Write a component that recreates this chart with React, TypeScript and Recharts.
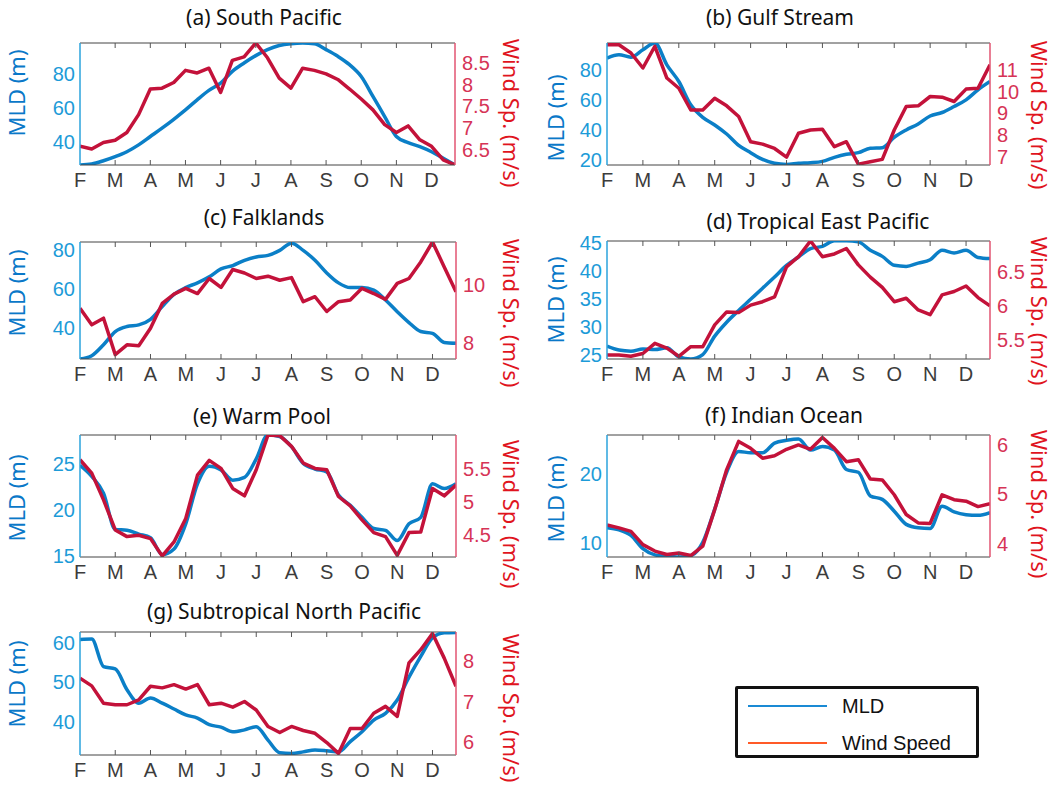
import React from "react";
import { LineChart, Line, XAxis, YAxis, ReferenceLine } from "recharts";

// months since 1 Feb, three samples per month
const sampleMonths = [
  0, 0.333, 0.667, 1, 1.333, 1.667, 2, 2.333, 2.667, 3, 3.333, 3.667, 4, 4.333, 4.667, 5, 5.333,
  5.667, 6, 6.333, 6.667, 7, 7.333, 7.667, 8, 8.333, 8.667, 9, 9.333, 9.667, 10, 10.333, 10.667,
];
const monthLabels = ["F", "M", "A", "M", "J", "J", "A", "S", "O", "N", "D"];
const monthTicks = [0, 1, 2, 3, 4, 5, 6, 7, 8, 9, 10];

const southPacificMld = [26.5, 27.1, 29.0, 31.4, 34.3, 38.3, 43.2, 48.1, 53.3, 58.8, 64.7, 70.2, 74.5, 81.4, 86.3, 90.6, 94.1, 96.5, 97.6, 98.0, 97.6, 94.1, 90.2, 85.3, 78.4, 66.7, 54.9, 43.2, 39.6, 37.3, 34.3, 30.4, 26.5];
const southPacificWind = [6.58, 6.52, 6.67, 6.72, 6.9, 7.31, 7.9, 7.92, 8.05, 8.33, 8.27, 8.38, 7.82, 8.56, 8.64, 8.96, 8.62, 8.15, 7.92, 8.38, 8.33, 8.25, 8.12, 7.9, 7.67, 7.42, 7.08, 6.9, 7.05, 6.73, 6.58, 6.27, 6.15];

const gulfStreamMld = [87.8, 90.0, 88.4, 93.3, 97.8, 83.3, 72.2, 56.7, 48.4, 43.3, 37.3, 29.8, 24.9, 20.4, 17.8, 17.1, 17.8, 18.2, 19.1, 21.8, 23.8, 24.9, 27.8, 28.2, 35.1, 40.0, 44.0, 49.3, 51.6, 55.6, 60.0, 66.7, 72.2];
const gulfStreamWind = [12.15, 12.15, 11.77, 11.08, 12.08, 10.62, 10.15, 9.15, 9.15, 9.69, 9.34, 8.85, 7.69, 7.58, 7.38, 6.98, 8.08, 8.23, 8.26, 7.46, 7.69, 6.66, 6.77, 6.88, 8.23, 9.31, 9.34, 9.77, 9.74, 9.54, 10.11, 10.15, 11.23];

const falklandsMld = [24.2, 25.9, 31.5, 38.3, 40.9, 41.7, 44.6, 51.1, 57.4, 60.9, 63.3, 66.4, 70.5, 72.2, 74.9, 76.6, 77.4, 80.0, 83.7, 80.0, 74.9, 68.4, 63.3, 60.9, 60.9, 59.6, 54.5, 48.5, 42.9, 38.3, 37.4, 32.7, 32.3];
const falklandsWind = [9.2, 8.63, 8.86, 7.6, 7.94, 7.91, 8.51, 9.37, 9.69, 9.89, 9.71, 10.23, 9.92, 10.54, 10.42, 10.23, 10.31, 10.17, 10.26, 9.43, 9.6, 9.09, 9.43, 9.49, 9.89, 9.71, 9.51, 10.06, 10.23, 10.8, 11.49, 10.63, 9.77];

const tropEastPacMld = [26.5, 25.8, 25.6, 26.0, 25.9, 26.2, 24.6, 24.2, 25.0, 28.3, 30.8, 32.9, 34.9, 36.9, 38.9, 41.0, 42.5, 44.0, 44.4, 45.4, 45.4, 45.2, 43.7, 42.6, 41.0, 40.8, 41.4, 42.0, 43.7, 43.2, 43.7, 42.4, 42.2];
const tropEastPacWind = [5.28, 5.28, 5.26, 5.3, 5.45, 5.38, 5.26, 5.4, 5.4, 5.72, 5.91, 5.9, 6.01, 6.06, 6.13, 6.57, 6.72, 6.95, 6.72, 6.76, 6.84, 6.6, 6.42, 6.27, 6.06, 6.11, 5.94, 5.87, 6.16, 6.21, 6.29, 6.12, 6.0];

const warmPoolMld = [24.8, 23.6, 21.8, 17.9, 17.8, 17.4, 17.0, 15.2, 15.8, 18.5, 22.8, 24.7, 24.3, 23.2, 23.5, 25.5, 28.1, 27.9, 26.8, 25.0, 24.4, 24.1, 21.6, 20.5, 19.2, 18.0, 17.8, 16.7, 18.5, 19.2, 22.8, 22.3, 22.8];
const warmPoolWind = [5.63, 5.43, 5.03, 4.58, 4.48, 4.5, 4.45, 4.19, 4.4, 4.75, 5.4, 5.62, 5.5, 5.2, 5.09, 5.48, 6.0, 5.99, 5.83, 5.58, 5.5, 5.48, 5.08, 4.94, 4.73, 4.54, 4.48, 4.2, 4.54, 4.55, 5.2, 5.09, 5.25];

const indianMld = [12.2, 11.9, 11.1, 9.2, 8.3, 8.1, 8.0, 8.2, 10.1, 14.9, 20.2, 23.2, 23.0, 23.0, 24.4, 24.8, 25.0, 23.4, 23.9, 23.4, 20.6, 20.2, 16.8, 16.3, 14.6, 12.7, 12.2, 12.1, 15.3, 14.5, 14.1, 14.0, 14.4];
const indianWind = [4.38, 4.32, 4.25, 3.98, 3.85, 3.78, 3.81, 3.76, 3.95, 4.69, 5.5, 6.07, 5.93, 5.73, 5.78, 5.91, 6.0, 5.91, 6.15, 5.93, 5.66, 5.7, 5.31, 5.29, 4.99, 4.59, 4.42, 4.41, 4.99, 4.89, 4.86, 4.75, 4.81];

const subtropNPacMld = [60.9, 61.0, 54.0, 53.4, 48.1, 44.7, 46.0, 44.7, 43.2, 41.7, 40.9, 39.2, 38.6, 37.4, 37.9, 38.7, 35.3, 32.1, 31.9, 32.3, 32.8, 32.6, 32.3, 34.9, 37.4, 40.4, 42.1, 45.5, 51.3, 56.6, 61.3, 62.6, 62.7];
const subtropNPacWind = [7.58, 7.39, 6.96, 6.92, 6.92, 7.04, 7.38, 7.34, 7.42, 7.31, 7.42, 6.92, 6.96, 6.86, 7.0, 6.79, 6.38, 6.23, 6.38, 6.28, 6.21, 5.98, 5.71, 6.33, 6.33, 6.71, 6.88, 6.63, 7.96, 8.29, 8.69, 8.08, 7.38];

const MLD_LINE = "#0b7fc7";
const WIND_LINE = "#c3123a";
const MLD_AXIS = "#2ba3dc";
const WIND_AXIS = "#e25572";
const MLD_TEXT = "#1d9bd8";
const WIND_TEXT = "#d63456";
const TICK_FONT = "'Liberation Sans', Arial, sans-serif";
const LABEL_FONT = "'Noto Sans', 'Open Sans', sans-serif";

type PanelSpec = {
  title: string;
  titleAt: [number, number];
  box: { l: number; r: number; t: number; b: number };
  mld: number[];
  wind: number[];
  mldDomain: [number, number];
  windDomain: [number, number];
  mldTicks: number[];
  windTicks: number[];
  leftLabelAt: [number, number];
  rightLabelAt: [number, number];
};

const panels: PanelSpec[] = [
  {
    title: "(a) South Pacific", titleAt: [264, 18],
    box: { l: 80, r: 455, t: 43, b: 165 },
    mld: southPacificMld, wind: southPacificWind,
    mldDomain: [26.5, 98], windDomain: [6.15, 8.96],
    mldTicks: [40, 60, 80], windTicks: [6.5, 7, 7.5, 8, 8.5],
    leftLabelAt: [16, 93], rightLabelAt: [512, 113],
  },
  {
    title: "(b) Gulf Stream", titleAt: [780, 18],
    box: { l: 607, r: 990, t: 43, b: 165 },
    mld: gulfStreamMld, wind: gulfStreamWind,
    mldDomain: [16.7, 97.8], windDomain: [6.62, 12.23],
    mldTicks: [20, 40, 60, 80], windTicks: [7, 8, 9, 10, 11],
    leftLabelAt: [555, 118], rightLabelAt: [1040, 115],
  },
  {
    title: "(c) Falklands", titleAt: [264, 218],
    box: { l: 80, r: 456, t: 242, b: 359 },
    mld: falklandsMld, wind: falklandsWind,
    mldDomain: [24.2, 84.3], windDomain: [7.45, 11.49],
    mldTicks: [40, 60, 80], windTicks: [8, 10],
    leftLabelAt: [16, 293], rightLabelAt: [512, 313],
  },
  {
    title: "(d) Tropical East Pacific", titleAt: [818, 222],
    box: { l: 607, r: 990, t: 241, b: 359 },
    mld: tropEastPacMld, wind: tropEastPacWind,
    mldDomain: [24.2, 45.36], windDomain: [5.22, 6.95],
    mldTicks: [25, 30, 35, 40, 45], windTicks: [5.5, 6, 6.5],
    leftLabelAt: [555, 300], rightLabelAt: [1040, 311],
  },
  {
    title: "(e) Warm Pool", titleAt: [262, 417],
    box: { l: 80, r: 456, t: 435, b: 557 },
    mld: warmPoolMld, wind: warmPoolWind,
    mldDomain: [14.93, 28.06], windDomain: [4.175, 6.0],
    mldTicks: [15, 20, 25], windTicks: [4.5, 5, 5.5],
    leftLabelAt: [16, 498], rightLabelAt: [512, 514],
  },
  {
    title: "(f) Indian Ocean", titleAt: [784, 416],
    box: { l: 607, r: 990, t: 435, b: 557 },
    mld: indianMld, wind: indianWind,
    mldDomain: [8.0, 25.57], windDomain: [3.73, 6.2],
    mldTicks: [10, 20], windTicks: [4, 5, 6],
    leftLabelAt: [555, 499], rightLabelAt: [1040, 504],
  },
  {
    title: "(g) Subtropical North Pacific", titleAt: [284, 612],
    box: { l: 80, r: 456, t: 632, b: 755 },
    mld: subtropNPacMld, wind: subtropNPacWind,
    mldDomain: [31.5, 62.8], windDomain: [5.67, 8.73],
    mldTicks: [40, 50, 60], windTicks: [6, 7, 8],
    leftLabelAt: [16, 684], rightLabelAt: [512, 708],
  },
];

const PAD_TOP = 10;
const TICK_GAP = 4;

function MonthTick(props: any) {
  const { x, y, payload } = props;
  const axisY = y - TICK_GAP;
  return (
    <g>
      {payload.value > 0 && (
        <>
          <line x1={x} x2={x} y1={axisY} y2={axisY - 5} stroke="#555" />
          <line x1={x} x2={x} y1={PAD_TOP} y2={PAD_TOP + 5} stroke="#555" />
        </>
      )}
      <text x={x} y={axisY + 22} textAnchor="middle" fill="#3c3c3c" fontSize={20} fontFamily={TICK_FONT}>
        {monthLabels[payload.value]}
      </text>
    </g>
  );
}

function RotatedLabel({ at, text, color, angle }: { at: [number, number]; text: string; color: string; angle: number }) {
  return (
    <div
      style={{
        position: "absolute",
        left: at[0],
        top: at[1],
        transform: `translate(-50%, -50%) rotate(${angle}deg)`,
        whiteSpace: "nowrap",
        fontFamily: LABEL_FONT,
        fontSize: 22,
        color,
        lineHeight: 1.2,
      }}
    >
      {text}
    </div>
  );
}

function Panel({ p }: { p: PanelSpec }) {
  const width = p.box.r - p.box.l + 160;
  const height = p.box.b - p.box.t + PAD_TOP + 30;
  const rows = sampleMonths.map((m, i) => ({ month: m, mld: p.mld[i], wind: p.wind[i] }));
  return (
    <>
      <div
        style={{
          position: "absolute",
          left: p.titleAt[0],
          top: p.titleAt[1],
          transform: "translate(-50%, -50%)",
          whiteSpace: "nowrap",
          fontFamily: LABEL_FONT,
          fontSize: 21,
          color: "#111",
          lineHeight: 1.2,
        }}
      >
        {p.title}
      </div>
      <div style={{ position: "absolute", left: p.box.l - 80, top: p.box.t - PAD_TOP }}>
        <LineChart width={width} height={height} data={rows} margin={{ top: PAD_TOP, right: 0, bottom: 0, left: 0 }}>
          <XAxis
            dataKey="month"
            type="number"
            domain={[0, 10.667]}
            allowDataOverflow
            ticks={monthTicks}
            interval={0}
            height={30}
            tickSize={0}
            tickMargin={TICK_GAP}
            tickLine={false}
            axisLine={{ stroke: "#444" }}
            tick={<MonthTick />}
          />
          <YAxis
            yAxisId="l"
            orientation="left"
            width={80}
            domain={p.mldDomain}
            allowDataOverflow
            ticks={p.mldTicks}
            interval={0}
            tickSize={0}
            tickMargin={5}
            tickLine={false}
            axisLine={{ stroke: MLD_AXIS, strokeWidth: 1.5 }}
            tick={{ fill: MLD_TEXT, fontSize: 20, fontFamily: TICK_FONT }}
          />
          <YAxis
            yAxisId="r"
            orientation="right"
            width={80}
            domain={p.windDomain}
            allowDataOverflow
            ticks={p.windTicks}
            interval={0}
            tickSize={0}
            tickMargin={7}
            tickLine={false}
            axisLine={{ stroke: WIND_AXIS, strokeWidth: 1.5 }}
            tick={{ fill: WIND_TEXT, fontSize: 20, fontFamily: TICK_FONT }}
          />
          <ReferenceLine yAxisId="l" y={p.mldDomain[1]} stroke="#444" />
          <Line
            yAxisId="l"
            dataKey="mld"
            type="monotone"
            stroke={MLD_LINE}
            strokeWidth={3.5}
            dot={false}
            isAnimationActive={false}
          />
          <Line
            yAxisId="r"
            dataKey="wind"
            type="linear"
            stroke={WIND_LINE}
            strokeWidth={3.5}
            strokeLinejoin="round"
            dot={false}
            isAnimationActive={false}
          />
        </LineChart>
      </div>
      <RotatedLabel at={p.leftLabelAt} text="MLD (m)" color="#0a78c8" angle={-90} />
      <RotatedLabel at={p.rightLabelAt} text="Wind Sp. (m/s)" color="#e0141e" angle={90} />
    </>
  );
}

function KeyBox() {
  const items = [
    { name: "MLD", color: "#1a8ad4", y: 17 },
    { name: "Wind Speed", color: "#ff5a28", y: 54 },
  ];
  return (
    <div
      style={{
        position: "absolute",
        left: 735,
        top: 686,
        width: 244,
        height: 72,
        boxSizing: "border-box",
        border: "3px solid #111",
        borderRadius: 2,
        background: "#fff",
      }}
    >
      <svg width={238} height={66} style={{ position: "absolute", left: 0, top: 0 }}>
        {items.map((it) => (
          <g key={it.name}>
            <line x1={10} x2={89} y1={it.y} y2={it.y} stroke={it.color} strokeWidth={2} />
            <text x={104} y={it.y + 7} fontSize={20} fontFamily={TICK_FONT} fill="#111">
              {it.name}
            </text>
          </g>
        ))}
      </svg>
    </div>
  );
}

export default function App() {
  return (
    <div style={{ position: "absolute", left: 0, top: 0, width: 1056, height: 786, background: "#fff", overflow: "hidden" }}>
      {panels.map((p) => (
        <Panel key={p.title} p={p} />
      ))}
      <KeyBox />
    </div>
  );
}
